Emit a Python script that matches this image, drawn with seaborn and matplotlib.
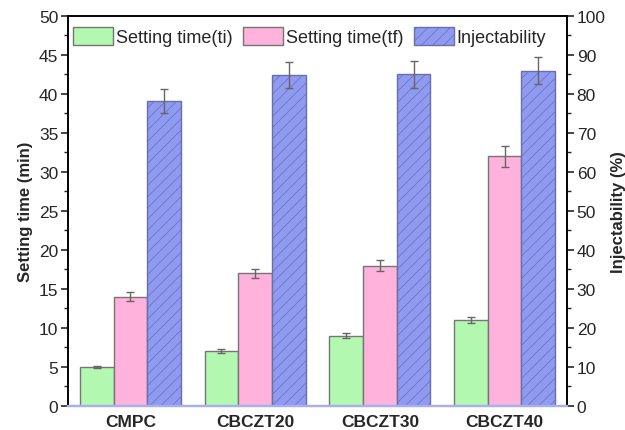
import matplotlib
matplotlib.use("Agg")
import matplotlib.pyplot as plt
from matplotlib.ticker import MultipleLocator
from matplotlib.patches import Patch
import seaborn as sns
import pandas as pd
import numpy as np

groups = ["CMPC", "CBCZT20", "CBCZT30", "CBCZT40"]
series = ["Setting time(ti)", "Setting time(tf)", "Injectability"]
ti = [5.0, 7.0, 9.0, 11.0]
ti_err = [0.15, 0.25, 0.3, 0.4]
tf = [14.0, 17.0, 18.0, 32.0]
tf_err = [0.6, 0.6, 0.7, 1.3]
inj = [78.2, 84.8, 85.0, 86.0]
inj_err = [3.2, 3.3, 3.4, 3.4]

colors = ["#b3f8b0", "#ffb3dc", "#8f9af2"]

sns.set_theme(style="ticks")
plt.rcParams['font.family'] = ['Liberation Sans', 'DejaVu Sans']
plt.rcParams['hatch.color'] = "#5a60a8"
plt.rcParams['hatch.linewidth'] = 0.5

fig = plt.figure(figsize=(6.25, 4.31), dpi=100)
ax = fig.add_axes([0.1088, 0.0557, 0.7984, 0.9049])
ax2 = ax.twinx()

# right axis (0-100 %) is exactly twice the left axis (0-50 min):
# injectability is drawn in left-axis units (value / 2)
scale = 0.5
df = pd.DataFrame({
    "group": groups * 3,
    "series": [series[0]] * 4 + [series[1]] * 4 + [series[2]] * 4,
    "value": ti + tf + [v * scale for v in inj],
    "err": ti_err + tf_err + [e * scale for e in inj_err],
})

pal = dict(zip(series, colors))
sns.barplot(data=df, x="group", y="value", hue="series", hue_order=series,
            order=groups, palette=pal, saturation=1, width=0.81, gap=0, errorbar=None,
            edgecolor="#757575", linewidth=1.0, ax=ax, legend=False)

bars = [p for p in ax.patches if p.get_height() > 0]
# seaborn draws hue levels in order: 4 bars per series
for k, p in enumerate(bars):
    if k >= 8:
        p.set_hatch("///")
        p.set_edgecolor("#6a6fa8")
xs = [p.get_x() + p.get_width() / 2 for p in bars]
hs = [p.get_height() for p in bars]
ax.errorbar(xs, hs, yerr=df["err"].values[:len(bars)], fmt="none", ecolor="#666666",
            elinewidth=1.0, capsize=3, capthick=1.0, zorder=5)

ax.set_xlim(-0.5, 3.5)
ax.set_ylim(0, 50)
ax2.set_ylim(0, 100)
ax.yaxis.set_major_locator(MultipleLocator(5))
ax.yaxis.set_minor_locator(MultipleLocator(2.5))
ax2.yaxis.set_major_locator(MultipleLocator(10))
ax2.yaxis.set_minor_locator(MultipleLocator(5))

ax.set_xlabel("")
ax.set_ylabel("Setting time (min)", fontsize=12, fontweight="bold", labelpad=4)
ax2.set_ylabel("Injectability (%)", fontsize=12, fontweight="bold", labelpad=4)
ax.tick_params(axis="y", which="major", labelsize=12.5, length=5, width=1.2, direction="out", pad=2)
ax.tick_params(axis="y", which="minor", length=3, width=1.0, direction="out")
ax2.tick_params(axis="y", which="major", labelsize=12.5, length=5, width=1.2, direction="out", pad=2)
ax2.tick_params(axis="y", which="minor", length=3, width=1.0, direction="out")
ax.tick_params(axis="x", length=0, pad=6)
for lab in ax.get_xticklabels():
    lab.set_fontsize(12.5)
    lab.set_fontweight("bold")

for a in (ax, ax2):
    for s in ["left", "right", "top"]:
        a.spines[s].set_visible(True)
        a.spines[s].set_color("black")
        a.spines[s].set_linewidth(1.2)
    a.spines["bottom"].set_color("#a7b0ee")
    a.spines["bottom"].set_linewidth(1.6)

handles = [Patch(facecolor=colors[0], edgecolor="#757575", label=series[0]),
           Patch(facecolor=colors[1], edgecolor="#757575", label=series[1]),
           Patch(facecolor=colors[2], edgecolor="#6a6fa8", hatch="///", label=series[2])]
ax.legend(handles=handles, loc="upper left", bbox_to_anchor=(0.0, 0.985), ncol=3,
          frameon=False, fontsize=13, handlelength=2.2, handleheight=1.1,
          handletextpad=0.15, columnspacing=0.6, borderaxespad=0.1, borderpad=0.2)

fig.savefig("out.png", dpi=100)
